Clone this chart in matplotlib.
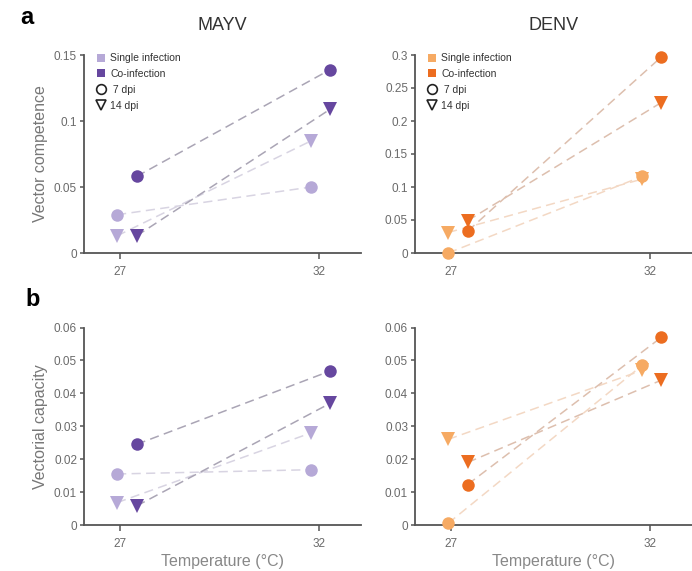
import matplotlib
matplotlib.use("Agg")
import matplotlib.pyplot as plt
from matplotlib.lines import Line2D

plt.rcParams['font.family'] = ['Liberation Sans', 'DejaVu Sans']

temps = [27, 32]

# vector competence
mayv_vc_single_7 = [0.029, 0.050]
mayv_vc_single_14 = [0.013, 0.085]
mayv_vc_co_7 = [0.058, 0.139]
mayv_vc_co_14 = [0.013, 0.109]

denv_vc_single_7 = [0.0, 0.116]
denv_vc_single_14 = [0.031, 0.112]
denv_vc_co_7 = [0.033, 0.297]
denv_vc_co_14 = [0.049, 0.228]

# vectorial capacity
mayv_cap_single_7 = [0.0155, 0.0168]
mayv_cap_single_14 = [0.0068, 0.0280]
mayv_cap_co_7 = [0.0245, 0.0468]
mayv_cap_co_14 = [0.0058, 0.0370]

denv_cap_single_7 = [0.0005, 0.0485]
denv_cap_single_14 = [0.0260, 0.0470]
denv_cap_co_7 = [0.0123, 0.0570]
denv_cap_co_14 = [0.0190, 0.0440]

vc_ticks_mayv = [0, 0.05, 0.1, 0.15]
vc_ticks_denv = [0, 0.05, 0.1, 0.15, 0.2, 0.25, 0.3]
cap_ticks = [0, 0.01, 0.02, 0.03, 0.04, 0.05, 0.06]

colors = {
    "MAYV": {"single": "#b6a9d7", "co": "#66479f",
             "single_line": "#d8d4e2", "co_line": "#aaa5b5"},
    "DENV": {"single": "#f6aa63", "co": "#ec6d20",
             "single_line": "#f3d8c4", "co_line": "#ddbfae"},
}

# small horizontal dodge so single / co-infection points sit side by side
dodge_single = [-0.07, -0.2]
dodge_co = [0.42, 0.28]

fig = plt.figure(figsize=(6.92, 5.71), dpi=100)

ax_w = 277 / 692
pos = {
    (0, 0): [84 / 692, 1 - 253 / 571, ax_w, 198 / 571],
    (0, 1): [415 / 692, 1 - 253 / 571, ax_w, 198 / 571],
    (1, 0): [84 / 692, 1 - 525 / 571, ax_w, 197.5 / 571],
    (1, 1): [415 / 692, 1 - 525 / 571, ax_w, 197.5 / 571],
}


def tick_str(v):
    if v == 0:
        return "0"
    return ("%g" % v)


def draw_panel(ax, virus, s7, s14, c7, c14, yticks):
    c = colors[virus]
    xs = [t + d for t, d in zip(temps, dodge_single)]
    xc = [t + d for t, d in zip(temps, dodge_co)]
    dash = (0, (6, 3.5))
    lw = 1.1
    ax.plot(xs, s7, ls=dash, color=c["single_line"], lw=lw, zorder=1)
    ax.plot(xs, s14, ls=dash, color=c["single_line"], lw=lw, zorder=1)
    ax.plot(xc, c7, ls=dash, color=c["co_line"], lw=lw, zorder=1)
    ax.plot(xc, c14, ls=dash, color=c["co_line"], lw=lw, zorder=1)
    ms = 9
    ax.plot(xs, s14, 'v', color=c["single"], ms=ms + 1, mew=0, ls='none', zorder=3, clip_on=False)
    ax.plot(xs, s7, 'o', color=c["single"], ms=ms, mew=0, ls='none', zorder=3, clip_on=False)
    ax.plot(xc, c14, 'v', color=c["co"], ms=ms + 1, mew=0, ls='none', zorder=4, clip_on=False)
    ax.plot(xc, c7, 'o', color=c["co"], ms=ms, mew=0, ls='none', zorder=4, clip_on=False)

    ax.set_xlim(26.1, 33.05)
    ax.set_ylim(0, yticks[-1])
    ax.set_xticks(temps)
    ax.set_xticklabels([str(t) for t in temps])
    ax.set_yticks(yticks)
    ax.set_yticklabels([tick_str(v) for v in yticks])
    for side in ("top", "right"):
        ax.spines[side].set_visible(False)
    for side in ("left", "bottom"):
        ax.spines[side].set_color("#555555")
        ax.spines[side].set_linewidth(1.3)
    ax.tick_params(axis="both", direction="out", width=1.1,
                   color="#555555", labelcolor="#6a6a6a", labelsize=8.5)
    ax.tick_params(axis="y", length=3, pad=2)
    ax.tick_params(axis="x", length=4.5, pad=5)


axes = {}
for key in pos:
    axes[key] = fig.add_axes(pos[key])

draw_panel(axes[(0, 0)], "MAYV", mayv_vc_single_7, mayv_vc_single_14,
           mayv_vc_co_7, mayv_vc_co_14, vc_ticks_mayv)
draw_panel(axes[(0, 1)], "DENV", denv_vc_single_7, denv_vc_single_14,
           denv_vc_co_7, denv_vc_co_14, vc_ticks_denv)
draw_panel(axes[(1, 0)], "MAYV", mayv_cap_single_7, mayv_cap_single_14,
           mayv_cap_co_7, mayv_cap_co_14, cap_ticks)
draw_panel(axes[(1, 1)], "DENV", denv_cap_single_7, denv_cap_single_14,
           denv_cap_co_7, denv_cap_co_14, cap_ticks)

axes[(0, 0)].set_title("MAYV", fontsize=13, color="#333333", pad=18)
axes[(0, 1)].set_title("DENV", fontsize=13, color="#333333", pad=18)

axes[(0, 0)].set_ylabel("Vector competence", fontsize=11.5, color="#777777")
axes[(1, 0)].set_ylabel("Vectorial capacity", fontsize=11.5, color="#777777")
axes[(0, 0)].yaxis.set_label_coords(-0.13, 0.5)
axes[(1, 0)].yaxis.set_label_coords(-0.13, 0.5)

for key in [(1, 0), (1, 1)]:
    axes[key].set_xlabel("Temperature (°C)", fontsize=11.5, color="#888888", labelpad=3)

# legends in the top row
for key, virus in [((0, 0), "MAYV"), ((0, 1), "DENV")]:
    c = colors[virus]
    handles = [
        Line2D([], [], marker='s', ls='none', color=c["single"], ms=6, mew=0),
        Line2D([], [], marker='s', ls='none', color=c["co"], ms=6, mew=0),
        Line2D([], [], marker='o', ls='none', mfc='none', mec='#222222', ms=7, mew=1.2),
        Line2D([], [], marker='v', ls='none', mfc='none', mec='#222222', ms=7, mew=1.2),
    ]
    labels = ["Single infection", "Co-infection", " 7 dpi", "14 dpi"]
    axes[key].legend(handles, labels, loc="upper left", bbox_to_anchor=(0.02, 1.04),
                     frameon=False, fontsize=7.5, handlelength=1.0, handletextpad=0.4,
                     labelspacing=0.55, borderaxespad=0.2, labelcolor="#333333")

fig.text(20 / 692, 1 - 18 / 571, "a", fontsize=17, fontweight="bold", va="center", ha="left")
fig.text(25 / 692, 1 - 300 / 571, "b", fontsize=17, fontweight="bold", va="center", ha="left")

fig.savefig("out.png", dpi=100)
